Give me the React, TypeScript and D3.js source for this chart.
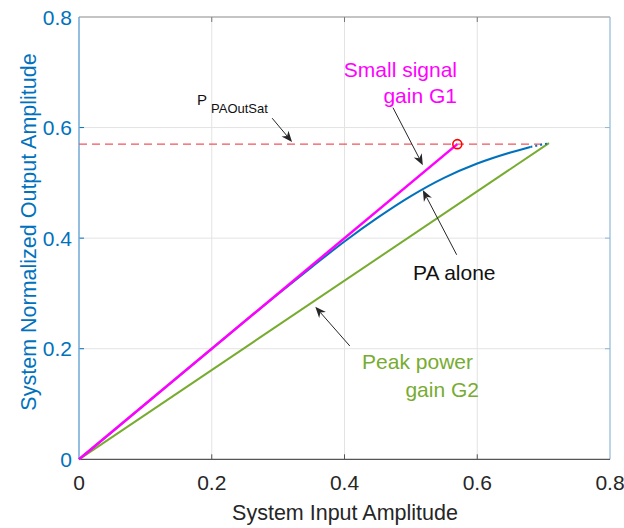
import React from 'react'
import * as d3 from 'd3'

// input amplitude vs normalized output amplitude
const g1X = [0, 0.57]
const g1Y = [0, 0.57]
const g2X = [0, 0.708]
const g2Y = [0, 0.572]
const paX = [0, 0.1, 0.2, 0.3, 0.35, 0.4, 0.45, 0.5, 0.55, 0.6, 0.65, 0.68]
const paY = [0, 0.1, 0.2, 0.299, 0.347, 0.394, 0.437, 0.476, 0.509, 0.535, 0.555, 0.565]
const paTailX = [0.68, 0.705]
const paTailY = [0.565, 0.571]
const satLevel = 0.57
const satEndX = 0.7
const ticks = [0, 0.2, 0.4, 0.6, 0.8]
const tickLabels = ['0', '0.2', '0.4', '0.6', '0.8']

const W = 624
const H = 528
const FONT = '"Liberation Sans", Arial, Helvetica, sans-serif'
const BLUE = '#0072BD'
const GREEN = '#77AC30'
const MAGENTA = '#FF00FF'
const DARK = '#262626'

const x = d3.scaleLinear().domain([0, 0.8]).range([79, 610])
const y = d3.scaleLinear().domain([0, 0.8]).range([459.3, 17])

const zip = (xs: number[], ys: number[]) => xs.map((v, i) => [v, ys[i]] as [number, number])
const line = d3.line<[number, number]>().x((d) => x(d[0])).y((d) => y(d[1]))
const curve = d3
  .line<[number, number]>()
  .x((d) => x(d[0]))
  .y((d) => y(d[1]))
  .curve(d3.curveMonotoneX)

// annotation arrows: [tailX, tailY, tipX, tipY] in data units
const arrows = [
  [0.291, 0.617, 0.321, 0.574],
  [0.473, 0.636, 0.518, 0.532],
  [0.569, 0.37, 0.518, 0.487],
  [0.408, 0.205, 0.356, 0.276],
]

function Arrow({ a }: { a: number[] }) {
  const x1 = x(a[0])
  const y1 = y(a[1])
  const x2 = x(a[2])
  const y2 = y(a[3])
  const ang = Math.atan2(y2 - y1, x2 - x1)
  const L = 11
  const Wd = 4.5
  const ux = Math.cos(ang)
  const uy = Math.sin(ang)
  const bx = x2 - ux * L
  const by = y2 - uy * L
  const nx = x2 - ux * L * 0.7
  const ny = y2 - uy * L * 0.7
  const head = `M${x2},${y2} L${bx - uy * Wd},${by + ux * Wd} L${nx},${ny} L${bx + uy * Wd},${by - ux * Wd} Z`
  return (
    <g>
      <line x1={x1} y1={y1} x2={nx} y2={ny} stroke={DARK} strokeWidth={1} />
      <path d={head} fill={DARK} />
    </g>
  )
}

export default function App() {
  const [x0, x1] = x.range()
  const [y0, y1] = y.range()
  return (
    <svg
      width={W}
      height={H}
      viewBox={`0 0 ${W} ${H}`}
      style={{ position: 'absolute', left: 0, top: 0, background: '#fff' }}
      fontFamily={FONT}
    >
      {/* grid */}
      {ticks.slice(1, -1).map((t) => (
        <g key={`g-${t}`}>
          <line x1={x(t)} x2={x(t)} y1={y0} y2={y1} stroke="#e3e3e3" strokeWidth={1} />
          <line x1={x0} x2={x1} y1={y(t)} y2={y(t)} stroke="#e3e3e3" strokeWidth={1} />
        </g>
      ))}

      {/* ticks */}
      {ticks.slice(1, -1).map((t) => (
        <g key={`t-${t}`}>
          <line x1={x(t)} x2={x(t)} y1={y0} y2={y0 - 5} stroke="#555" />
          <line x1={x(t)} x2={x(t)} y1={y1} y2={y1 + 5} stroke="#777" />
          <line x1={x0} x2={x0 + 5} y1={y(t)} y2={y(t)} stroke={BLUE} />
          <line x1={x1} x2={x1 - 5} y1={y(t)} y2={y(t)} stroke="#8fb8d8" />
        </g>
      ))}

      {/* box */}
      <line x1={x0} x2={x1} y1={y1} y2={y1} stroke="#8a8a8a" strokeWidth={1.2} />
      <line x1={x1} x2={x1} y1={y0} y2={y1} stroke="#8fb8d8" strokeWidth={1.2} />
      <line x1={x0} x2={x1} y1={y0} y2={y0} stroke="#555" strokeWidth={1.2} />
      <line x1={x0} x2={x0} y1={y0} y2={y1} stroke="#6fa8d6" strokeWidth={1.5} />

      {/* saturation level */}
      <line
        x1={x(0)}
        x2={x(satEndX)}
        y1={y(satLevel)}
        y2={y(satLevel)}
        stroke="#f0555a"
        strokeWidth={1.2}
        strokeDasharray="8,5"
      />

      {/* series */}
      <path d={line(zip(g2X, g2Y)) || ''} fill="none" stroke={GREEN} strokeWidth={2} />
      <path d={curve(zip(paX, paY)) || ''} fill="none" stroke={BLUE} strokeWidth={2} />
      <path
        d={line(zip(paTailX, paTailY)) || ''}
        fill="none"
        stroke={BLUE}
        strokeWidth={2}
        strokeDasharray="2,3"
      />
      <path d={line(zip(g1X, g1Y)) || ''} fill="none" stroke={MAGENTA} strokeWidth={2.5} />
      <circle
        cx={x(g1X[1])}
        cy={y(g1Y[1])}
        r={4.5}
        fill="none"
        stroke="#ff0000"
        strokeWidth={1.6}
      />

      {/* tick labels */}
      {ticks.map((t, i) => (
        <text
          key={`xl-${t}`}
          x={x(t)}
          y={490}
          textAnchor="middle"
          fontSize={21}
          fill={DARK}
        >
          {tickLabels[i]}
        </text>
      ))}
      {ticks.map((t, i) => (
        <text
          key={`yl-${t}`}
          x={x0 - 7}
          y={y(t) + 7.5}
          textAnchor="end"
          fontSize={21}
          fill={BLUE}
        >
          {tickLabels[i]}
        </text>
      ))}

      {/* axis labels */}
      <text x={345} y={520} textAnchor="middle" fontSize={21.5} fill={DARK}>
        System Input Amplitude
      </text>
      <text
        transform={`translate(36,232) rotate(-90)`}
        textAnchor="middle"
        fontSize={21.5}
        fill={BLUE}
      >
        System Normalized Output Amplitude
      </text>

      {/* annotations */}
      <text x={197} y={105} fontSize={15} fill="#111">
        P
      </text>
      <text x={211} y={113} fontSize={13} fill="#111">
        PAOutSat
      </text>
      <text textAnchor="end" fontSize={21} fill={MAGENTA}>
        <tspan x={457} y={77}>Small signal</tspan>
        <tspan x={457} y={103}>gain G1</tspan>
      </text>
      <text x={413} y={280} fontSize={21} fill="#111">
        PA alone
      </text>
      <text textAnchor="end" fontSize={21} fill={GREEN}>
        <tspan x={473} y={369}>Peak power</tspan>
        <tspan x={479} y={397}>gain G2</tspan>
      </text>

      {arrows.map((a, i) => (
        <Arrow key={`a-${i}`} a={a} />
      ))}
    </svg>
  )
}
